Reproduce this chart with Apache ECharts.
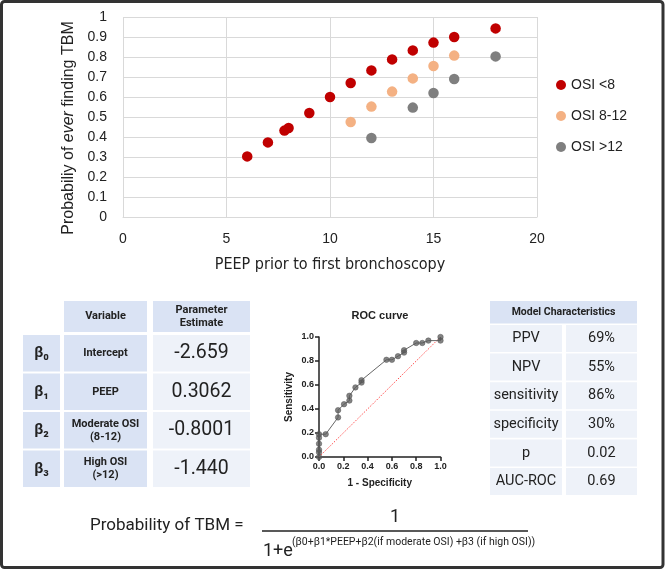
<!DOCTYPE html>
<html>
<head>
<meta charset="utf-8">
<script src="https://cdn.jsdelivr.net/npm/echarts@6/dist/echarts.min.js"></script>
<style>
  html, body { margin: 0; padding: 0; background: #fff; }
  #main { width: 666px; height: 571px; }
</style>
</head>
<body>
<div id="main"></div>
<script>
// ---- data ----
var seriesNames = ['OSI <8', 'OSI 8-12', 'OSI >12'];
var peepLow  = [6, 7, 7.8, 8, 9, 10, 11, 12, 13, 14, 15, 16, 18];
var probLow  = [0.303, 0.373, 0.432, 0.445, 0.52, 0.60, 0.67, 0.733, 0.788, 0.833, 0.872, 0.90, 0.943];
var peepMid  = [11, 12, 13, 14, 15, 16];
var probMid  = [0.475, 0.552, 0.627, 0.693, 0.755, 0.807];
var peepHigh = [12, 14, 15, 16, 18];
var probHigh = [0.395, 0.547, 0.62, 0.69, 0.803];

var rocFpr = [0, 0, 0, 0, 0, 0, 0.055, 0.157, 0.157, 0.206, 0.25, 0.25, 0.30, 0.35, 0.35, 0.555, 0.60, 0.65, 0.70, 0.70, 0.80, 0.85, 0.90, 1.0, 1.0];
var rocTpr = [0, 0.04, 0.06, 0.11, 0.16, 0.19, 0.19, 0.33, 0.39, 0.44, 0.47, 0.51, 0.58, 0.62, 0.64, 0.81, 0.81, 0.84, 0.87, 0.89, 0.95, 0.95, 0.97, 0.97, 1.0];
var chanceX = [0, 1];
var chanceY = [0, 1];

var betaLabels = ['β₀', 'β₁', 'β₂', 'β₃'];
var variableLabels = ['Intercept', 'PEEP', 'Moderate OSI\n(8-12)', 'High OSI\n(>12)'];
var estimates = ['-2.659', '0.3062', '-0.8001', '-1.440'];

var modelLabels = ['PPV', 'NPV', 'sensitivity', 'specificity', 'p', 'AUC-ROC'];
var modelValues = ['69%', '55%', '86%', '30%', '0.02', '0.69'];

// ---- helpers ----
var BLUE = '#dae3f4';
var PALE = '#eef2f9';
var INK = '#222';

function pairs(xs, ys) {
  return xs.map(function (x, i) { return [x, ys[i]]; });
}

function cell(x, y, w, h, fill, text, font) {
  var els = [{
    type: 'rect', shape: { x: x, y: y, width: w, height: h },
    style: { fill: fill }
  }];
  if (text) {
    els.push({
      type: 'text',
      style: {
        x: x + w / 2, y: y + h / 2, text: text, font: font, fill: INK,
        align: 'center', verticalAlign: 'middle', lineHeight: 13
      }
    });
  }
  return els;
}

var graphics = [];

// outer frame
graphics.push({
  type: 'rect', shape: { x: 1.5, y: 1.5, width: 661.5, height: 566, r: 3 },
  style: { fill: 'none', stroke: '#333', lineWidth: 3 }, z: 100
});

// parameter table
graphics = graphics.concat(cell(64, 301, 83, 31, BLUE, 'Variable', 'bold 11px Roboto'));
graphics = graphics.concat(cell(153, 301, 97, 31, BLUE, 'Parameter\nEstimate', 'bold 11px Roboto'));
var rowTops = [335, 373.5, 412, 450.5];
betaLabels.forEach(function (b, i) {
  var y = rowTops[i];
  graphics = graphics.concat(cell(23, y, 37, 36.5, BLUE, b, 'bold 15px Roboto'));
  graphics = graphics.concat(cell(64, y, 83, 36.5, BLUE, variableLabels[i], 'bold 11px Roboto'));
  graphics = graphics.concat(cell(153, y, 97, 36.5, PALE, estimates[i], '19.5px Roboto'));
});

// model characteristics table
graphics = graphics.concat(cell(490, 301, 147, 22.5, BLUE, 'Model Characteristics', 'bold 10.5px Roboto'));
modelLabels.forEach(function (m, i) {
  var y = 325 + i * 28.6;
  graphics = graphics.concat(cell(490, y, 72, 27, PALE, m, '14.5px Roboto'));
  graphics = graphics.concat(cell(566, y, 71, 27, PALE, modelValues[i], '14.5px Roboto'));
});

// ROC title
graphics.push({
  type: 'text',
  style: { x: 380, y: 316, text: 'ROC curve', font: 'bold 11px "Liberation Sans", Arial', fill: INK, align: 'center', verticalAlign: 'middle' }
});

// formula
graphics.push({
  type: 'text',
  style: { x: 90, y: 526, text: 'Probability of TBM =', font: '17px Roboto', fill: INK, align: 'left', verticalAlign: 'middle' }
});
graphics.push({
  type: 'text',
  style: { x: 395, y: 517, text: '1', font: '18px Roboto', fill: INK, align: 'center', verticalAlign: 'middle' }
});
graphics.push({
  type: 'line', shape: { x1: 262, y1: 531, x2: 528, y2: 531 },
  style: { stroke: INK, lineWidth: 1.5 }
});
graphics.push({
  type: 'text',
  style: { x: 263, y: 551, text: '1+e', font: '18px Roboto', fill: INK, align: 'left', verticalAlign: 'middle' }
});
graphics.push({
  type: 'text',
  style: { x: 292, y: 542, text: '(β0+β1*PEEP+β2(if moderate OSI) +β3 (if high OSI))', font: '10.5px Roboto', fill: INK, align: 'left', verticalAlign: 'middle' }
});

var chart = echarts.init(document.getElementById('main'));

var option = {
  backgroundColor: '#fff',
  animation: false,
  legend: {
    orient: 'vertical',
    left: 551,
    top: 73,
    itemGap: 17,
    itemWidth: 10,
    itemHeight: 10,
    icon: 'circle',
    data: seriesNames,
    textStyle: { fontSize: 14, color: INK, fontFamily: '"Liberation Sans", Arial', lineHeight: 14 }
  },
  grid: [
    { left: 123, top: 17, width: 414, height: 200 },
    { left: 319, top: 337, width: 121.5, height: 120 }
  ],
  xAxis: [
    {
      gridIndex: 0, type: 'value', min: 0, max: 20, interval: 5,
      name: 'PEEP prior to first bronchoscopy',
      nameLocation: 'middle', nameGap: 40,
      nameTextStyle: { fontSize: 16, color: INK, fontFamily: '"Liberation Sans Narrow", "DejaVu Sans Condensed", sans-serif' },
      axisLine: { show: true, lineStyle: { color: '#d9d9d9' } },
      axisTick: { show: false },
      axisLabel: { fontSize: 14, color: INK, margin: 15, fontFamily: '"Liberation Sans", Arial' },
      splitLine: { show: true, lineStyle: { color: '#d9d9d9' } }
    },
    {
      gridIndex: 1, type: 'value', min: 0, max: 1, interval: 0.2,
      name: '1 - Specificity', nameLocation: 'middle', nameGap: 21,
      nameTextStyle: { fontSize: 10, fontWeight: 'bold', color: INK, fontFamily: '"Liberation Sans", Arial' },
      axisLine: { show: true, onZero: false, lineStyle: { color: '#222', width: 1.5 } },
      axisTick: { show: true, length: 4, lineStyle: { color: '#222', width: 1.5 } },
      axisLabel: { fontSize: 9, fontWeight: 'bold', color: INK, margin: 5, fontFamily: '"Liberation Sans", Arial',
        formatter: function (v) { return v.toFixed(1); } },
      splitLine: { show: false }
    }
  ],
  yAxis: [
    {
      gridIndex: 0, type: 'value', min: 0, max: 1, interval: 0.1,
      name: 'Probabiliy of {i|ever} finding TBM',
      nameLocation: 'middle', nameGap: 43,
      nameTextStyle: {
        fontSize: 16, color: INK, fontFamily: '"Liberation Sans", Arial',
        padding: [0, 22, 0, 0],
        rich: { i: { fontSize: 16, fontStyle: 'italic', color: INK, fontFamily: '"Liberation Sans", Arial' } }
      },
      axisLine: { show: false },
      axisTick: { show: false },
      axisLabel: { fontSize: 14, color: INK, margin: 16, fontFamily: '"Liberation Sans", Arial' },
      splitLine: { show: true, lineStyle: { color: '#d9d9d9' } }
    },
    {
      gridIndex: 1, type: 'value', min: 0, max: 1, interval: 0.2,
      name: 'Sensitivity', nameLocation: 'middle', nameGap: 25,
      nameTextStyle: { fontSize: 10, fontWeight: 'bold', color: INK, fontFamily: '"Liberation Sans", Arial' },
      axisLine: { show: true, onZero: false, lineStyle: { color: '#222', width: 1.5 } },
      axisTick: { show: true, length: 4, lineStyle: { color: '#222', width: 1.5 } },
      axisLabel: { fontSize: 9, fontWeight: 'bold', color: INK, margin: 5, fontFamily: '"Liberation Sans", Arial',
        formatter: function (v) { return v.toFixed(1); } },
      splitLine: { show: false }
    }
  ],
  series: [
    {
      name: seriesNames[0], type: 'scatter', xAxisIndex: 0, yAxisIndex: 0,
      symbolSize: 10.5, itemStyle: { color: '#c00000', opacity: 1 },
      data: pairs(peepLow, probLow)
    },
    {
      name: seriesNames[1], type: 'scatter', xAxisIndex: 0, yAxisIndex: 0,
      symbolSize: 10.5, itemStyle: { color: '#f4b183', opacity: 1 },
      data: pairs(peepMid, probMid)
    },
    {
      name: seriesNames[2], type: 'scatter', xAxisIndex: 0, yAxisIndex: 0,
      symbolSize: 10.5, itemStyle: { color: '#7f7f7f', opacity: 1 },
      data: pairs(peepHigh, probHigh)
    },
    {
      name: 'chance', type: 'line', xAxisIndex: 1, yAxisIndex: 1,
      showSymbol: false, silent: true,
      lineStyle: { color: '#ff4d4d', width: 1, type: [1.5, 1.5] },
      data: pairs(chanceX, chanceY)
    },
    {
      name: 'ROC', type: 'line', xAxisIndex: 1, yAxisIndex: 1,
      symbol: 'circle', symbolSize: 5.5,
      lineStyle: { color: '#666', width: 1 },
      itemStyle: { color: 'rgba(90,90,90,0.75)', borderColor: '#555', borderWidth: 0.5 },
      data: pairs(rocFpr, rocTpr)
    }
  ],
  graphic: graphics
};

chart.setOption(option);
</script>
</body>
</html>
